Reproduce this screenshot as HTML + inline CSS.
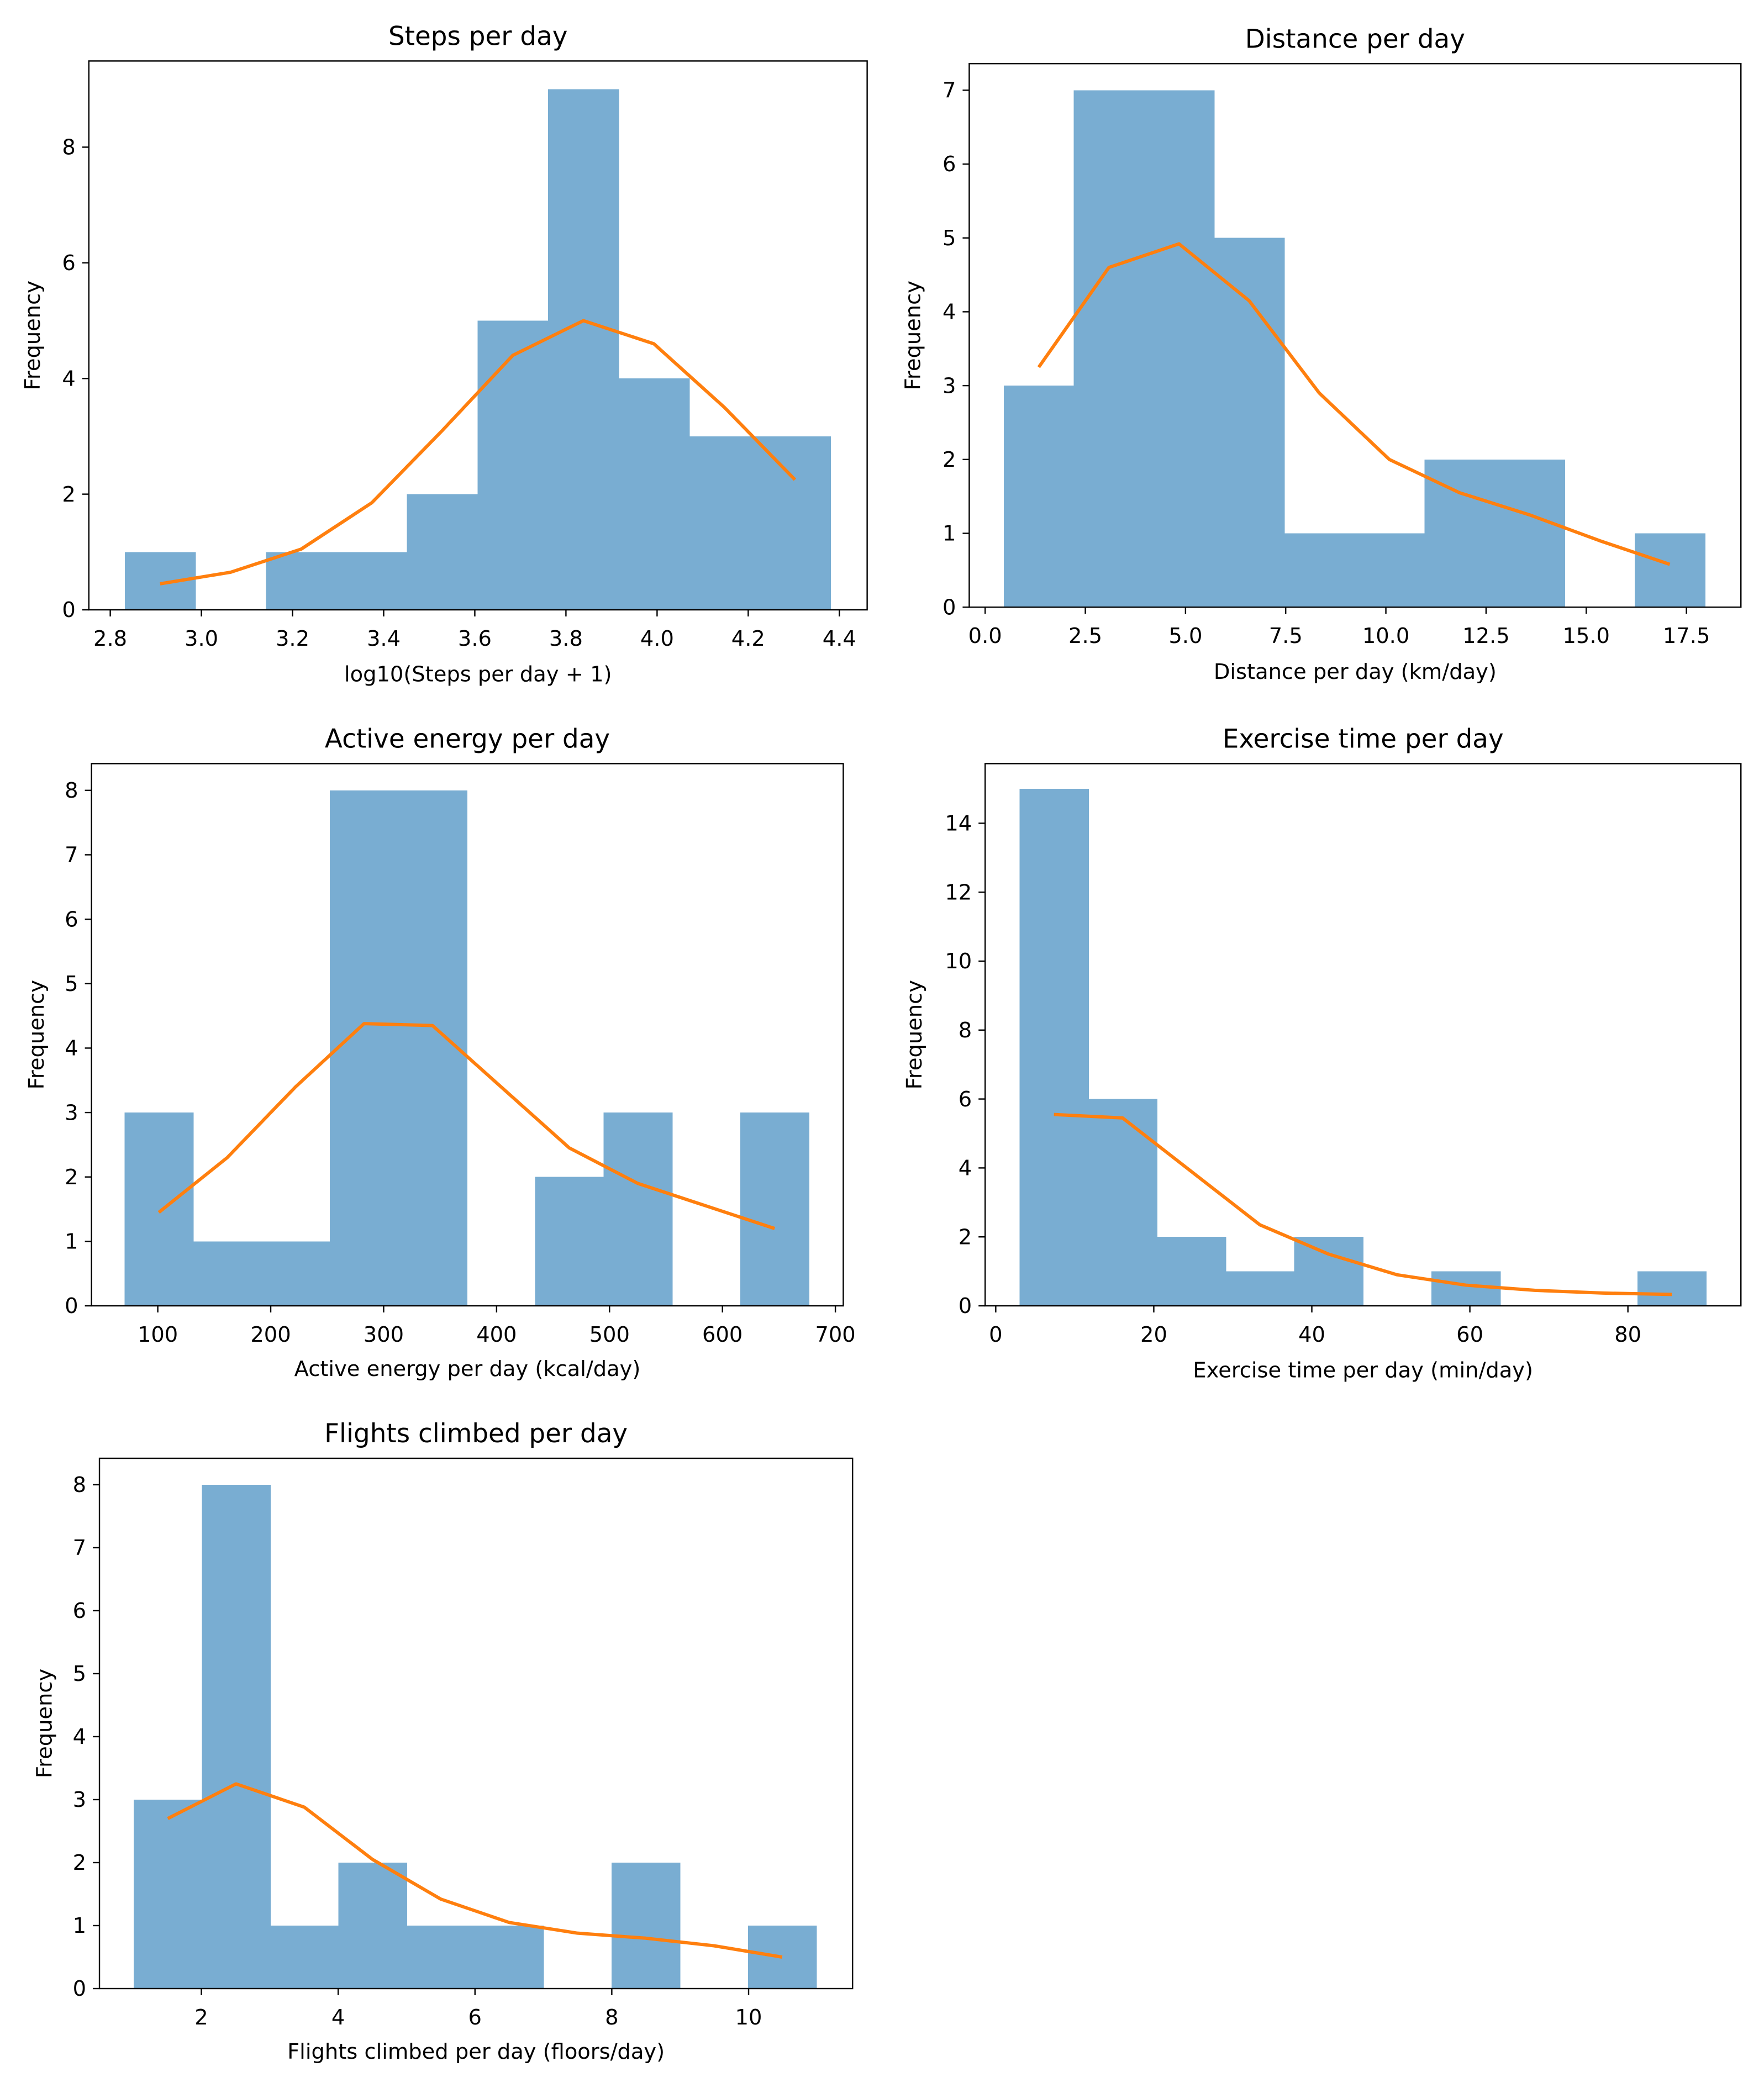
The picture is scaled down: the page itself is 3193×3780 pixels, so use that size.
<!DOCTYPE html>
<html><head><meta charset="utf-8"><style>
html,body{margin:0;padding:0;background:#fff}
svg{display:block;font-family:"DejaVu Sans","Liberation Sans",sans-serif}
</style></head><body>
<svg id="fig" width="3193" height="3780" viewBox="0 0 1330.4 1575" xmlns="http://www.w3.org/2000/svg">
<rect width="1330.4" height="1575" fill="#fff"/>
</svg>
<script>
const stepsCounts=[1,0,1,1,2,5,9,4,3,3];
const stepsLine=[0.45,0.65,1.05,1.85,3.1,4.4,5.0,4.6,3.5,2.25];
const stepsXTicks=[2.8,3.0,3.2,3.4,3.6,3.8,4.0,4.2,4.4];
const stepsYTicks=[0,2,4,6,8];
const distCounts=[3,7,7,5,1,1,2,2,0,1];
const distLine=[3.25,4.6,4.92,4.15,2.9,2.0,1.55,1.25,0.9,0.58];
const distXTicks=[0,2.5,5,7.5,10,12.5,15,17.5];
const distYTicks=[0,1,2,3,4,5,6,7];
const energyCounts=[3,1,1,8,8,0,2,3,0,3];
const energyLine=[1.45,2.3,3.4,4.38,4.35,3.4,2.45,1.9,1.55,1.2];
const energyXTicks=[100,200,300,400,500,600,700];
const energyYTicks=[0,1,2,3,4,5,6,7,8];
const exerCounts=[15,6,2,1,2,0,1,0,0,1];
const exerLine=[5.55,5.45,3.9,2.35,1.5,0.9,0.6,0.45,0.37,0.33];
const exerXTicks=[0,20,40,60,80];
const exerYTicks=[0,2,4,6,8,10,12,14];
const flightCounts=[3,8,1,2,1,1,0,2,0,1];
const flightLine=[2.7,3.25,2.88,2.05,1.42,1.05,0.88,0.8,0.68,0.5];
const flightXTicks=[2,4,6,8,10];
const flightYTicks=[0,1,2,3,4,5,6,7,8];

const panels=[
 {name:'steps',counts:stepsCounts,line:stepsLine,xt:stepsXTicks,yt:stepsYTicks,dmin:2.832,dmax:4.380,
  ax:[67,654,46,460],xr:[2.753,4.461],yr:[0,9.49],title:'Steps per day',ty:27,xl:'log10(Steps per day + 1)',xly:508,yly:24,fmt:v=>v.toFixed(1)},
 {name:'distance',counts:distCounts,line:distLine,xt:distXTicks,yt:distYTicks,dmin:0.463,dmax:17.96,
  ax:[731,1313,48,458],xr:[-0.397,18.86],yr:[0,7.36],title:'Distance per day',ty:29,xl:'Distance per day (km/day)',xly:506,yly:688,fmt:v=>v.toFixed(1)},
 {name:'active-energy',counts:energyCounts,line:energyLine,xt:energyXTicks,yt:energyYTicks,dmin:70.6,dmax:676.5,
  ax:[69,636,576,985],xr:[41.3,707],yr:[0,8.415],title:'Active energy per day',ty:557,xl:'Active energy per day (kcal/day)',xly:1032,yly:27,fmt:v=>String(v)},
 {name:'exercise-time',counts:exerCounts,line:exerLine,xt:exerXTicks,yt:exerYTicks,dmin:3.02,dmax:89.9,
  ax:[743,1313,576,985],xr:[-1.34,94.3],yr:[0,15.73],title:'Exercise time per day',ty:557,xl:'Exercise time per day (min/day)',xly:1033,yly:689,fmt:v=>String(v)},
 {name:'flights',counts:flightCounts,line:flightLine,xt:flightXTicks,yt:flightYTicks,dmin:1.01,dmax:10.99,
  ax:[75,643,1100,1500],xr:[0.51,11.52],yr:[0,8.42],title:'Flights climbed per day',ty:1081,xl:'Flights climbed per day (floors/day)',xly:1547,yly:33,fmt:v=>String(v)}
];
const NS='http://www.w3.org/2000/svg';
const svg=document.getElementById('fig');
function mk(tag,attrs,parent){const e=document.createElementNS(NS,tag);for(const k in attrs)e.setAttribute(k,attrs[k]);parent.appendChild(e);return e;}
panels.forEach(p=>{
 const [x0,x1,y0,y1]=p.ax;
 const X=v=>x0+(v-p.xr[0])/(p.xr[1]-p.xr[0])*(x1-x0);
 const Y=v=>y1-(v-p.yr[0])/(p.yr[1]-p.yr[0])*(y1-y0);
 const g=mk('g',{},svg);
 
 
 const n=p.counts.length, w=(p.dmax-p.dmin)/n;
 p.counts.forEach((c,i)=>{
  if(c<=0)return;
  const a=X(p.dmin+i*w), b=X(p.dmin+(i+1)*w);
  const r=mk('rect',{x:a,y:Y(c),width:b-a+0.4,height:Y(0)-Y(c),fill:'#79add2','shape-rendering':'crispEdges'},g);
  
  
 });
 const pts=p.line.map((v,i)=>X(p.dmin+(i+0.5)*w).toFixed(2)+','+Y(v).toFixed(2)).join(' ');
 const pl=mk('polyline',{points:pts,fill:'none',stroke:'#ff7f0e','stroke-width':2.5,'stroke-linejoin':'round'},g);
 
 
 const fr=mk('rect',{x:x0,y:y0,width:x1-x0,height:y1-y0,fill:'none',stroke:'#000','stroke-width':1},g);
 
 
 p.xt.forEach(t=>{
  const x=X(t);
  mk('line',{x1:x,x2:x,y1:y1,y2:y1+5,stroke:'#000','stroke-width':1},g);
  const tx=mk('text',{x:x,y:y1+27,'font-size':16,'text-anchor':'middle',fill:'#000'},g);
  tx.textContent=p.fmt(t);
  
  
 });
 p.yt.forEach(t=>{
  const y=Y(t);
  mk('line',{x1:x0-5,x2:x0,y1:y,y2:y,stroke:'#000','stroke-width':1},g);
  const tx=mk('text',{x:x0-10,y:y+5.5,'font-size':16,'text-anchor':'end',fill:'#000'},g);
  tx.textContent=String(t);
  
  
 });
 const ti=mk('text',{x:(x0+x1)/2,y:p.ty+7,'font-size':19.5,'text-anchor':'middle',fill:'#000'},g);
 ti.textContent=p.title;
 
 
 const xl=mk('text',{x:(x0+x1)/2,y:p.xly+6,'font-size':16,'text-anchor':'middle',fill:'#000'},g);
 xl.textContent=p.xl;
 
 
 const yc=(y0+y1)/2;
 const yl=mk('text',{x:p.yly,y:yc,'font-size':16,'text-anchor':'middle',fill:'#000',transform:'rotate(-90 '+(p.yly)+' '+yc+')',dy:'6'},g);
 yl.textContent='Frequency';
 
 
});
</script>
</body></html>
